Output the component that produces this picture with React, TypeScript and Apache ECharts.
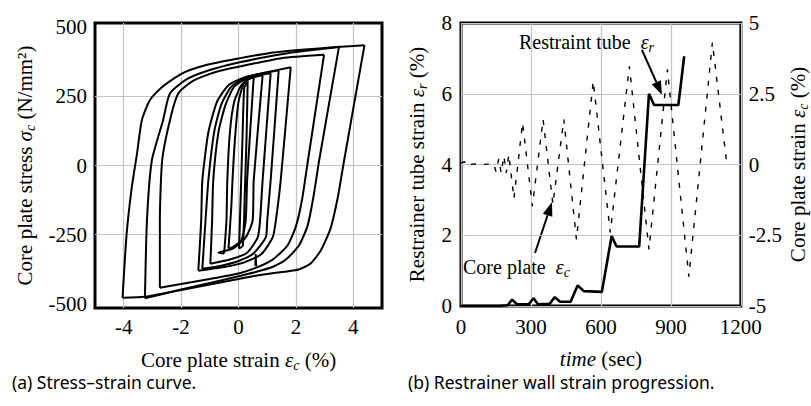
import React, { useEffect, useRef } from 'react';
import * as echarts from 'echarts';

// ---------- (a) stress-strain ----------
const strainTicks = [-4, -2, 0, 2, 4];
const stressTicks = [-500, -250, 0, 250, 500];
const stressGridLines = [-250, 0, 250];

const loopA = [
  [-4.04, -478], [-3.9, -250], [-3.72, -80], [-3.54, 40], [-3.37, 163], [-3.09, 236], [-2.67, 283],
  [-1.96, 333], [-1.16, 362], [0.07, 388], [1.05, 406], [2.2, 418], [3.4, 428], [4.39, 435],
  [3.68, 18], [3.45, -120], [3.2, -230], [2.85, -310], [2.5, -355], [2.1, -376], [1.6, -384],
  [1.0, -392], [0.5, -400], [0, -410], [-1, -430], [-2, -450], [-3.26, -474], [-4.04, -478],
];
const loopB = [
  [-3.26, -480], [-3.19, -199], [-3.02, 18], [-2.63, 163], [-2.39, 260], [-1.8, 312], [-1.0, 345],
  [0, 372], [1, 393], [2, 410], [3.5, 428], [2.81, 18], [2.6, -120], [2.4, -220], [2.1, -290],
  [1.65, -340], [1.2, -366], [0.6, -385], [0, -400], [-1, -425], [-2, -448], [-3.26, -480],
];
const loopC = [
  [-2.74, -442], [-2.74, -200], [-2.66, 18], [-2.39, 163], [-2.1, 260], [-1.6, 305], [-0.8, 338],
  [0.5, 368], [1.5, 388], [2.98, 400], [2.42, 18], [2.22, -120], [2.0, -220], [1.7, -290],
  [1.19, -340], [0.6, -370], [0, -390], [-1, -410], [-2, -428], [-2.74, -442],
];
const loopD = [
  [-1.4, -380], [-1.3, -200], [-1.26, -54], [-1.05, 120], [-0.75, 230], [-0.35, 290], [0.2, 318],
  [0.9, 335], [1.82, 355], [1.47, -54], [1.3, -200], [1.19, -260], [0.8, -320], [0.2, -350],
  [-0.5, -367], [-1.4, -380],
];
const loopE = [
  [-1.26, -373], [-1.15, -200], [-1.05, -54], [-0.85, 120], [-0.6, 220], [-0.25, 285], [0.3, 320],
  [1.4, 344], [1.12, -54], [1.0, -200], [0.95, -260], [0.5, -320], [0, -345], [-0.6, -362], [-1.26, -373],
];
const loopF = [
  [-0.98, -355], [-0.92, -200], [-0.88, -54], [-0.7, 120], [-0.45, 220], [-0.15, 285], [0.35, 318],
  [1.12, 333], [0.84, -54], [0.75, -200], [0.67, -260], [0.3, -315], [-0.3, -340], [-0.98, -355],
];
const loopG = [
  [-0.5, -318], [-0.42, -200], [-0.39, -54], [-0.3, 120], [-0.15, 230], [0.1, 290], [0.4, 315],
  [0.84, 326], [0.53, -54], [0.49, -200], [0.25, -260], [-0.2, -300], [-0.7, -315], [-0.5, -318],
];
const loopH = [
  [-0.35, -300], [-0.25, -150], [-0.21, -54], [-0.12, 100], [0, 230], [0.2, 300], [0.53, 320],
  [0.3, -54], [0.25, -200], [0.1, -270], [-0.2, -295], [-0.35, -300],
];
const loopI = [
  [0.02, -300], [0.08, -100], [0.14, 100], [0.2, 280], [0.32, 305], [0.28, 100], [0.22, -100],
  [0.15, -290], [0.02, -300],
];
const spike = [[0.58, -362], [0.6, -320], [0.62, -365]];
const loops = [loopA, loopB, loopC, loopD, loopE, loopF, loopG, loopH, loopI];

// ---------- (b) strain progression ----------
const timeTicks = [0, 300, 600, 900, 1200];
const tubeStrainTicks = [0, 2, 4, 6, 8];
const coreStrainTicks = [-5, -2.5, 0, 2.5, 5];

const tubeStrain = [
  [0, 0], [160, 0], [200, 0.02], [219, 0.18], [240, 0.05], [290, 0.05], [311, 0.22], [330, 0.05],
  [380, 0.06], [402, 0.25], [425, 0.12], [470, 0.12], [500, 0.58], [527, 0.42], [604, 0.4],
  [646, 1.98], [667, 1.68], [764, 1.68], [806, 6.0], [828, 5.68], [932, 5.68], [957, 7.06],
];
const coreStrain = [
  [0, 0.05], [15, 0.1], [25, -0.05], [40, 0], [60, 0.02], [90, 0], [140, 0.02], [150, -0.25],
  [162, 0.2], [172, -0.3], [184, 0.3], [194, -0.3], [205, 0.35], [227, -1.2], [264, 1.47],
  [306, -1.47], [352, 1.59], [394, -1.4], [441, 1.59], [495, -2.65], [567, 2.94], [640, -2.4],
  [722, 3.47], [806, -3.0], [885, 3.36], [977, -3.96], [1078, 4.31], [1140, 0],
];

const SERIF = '"Liberation Serif", "Times New Roman", serif';
const SANS = '"Noto Sans", "Open Sans", sans-serif';
const FS = 21;
const GRID_LINE = { show: true, lineStyle: { color: '#c4c4c4', width: 1.2 } };
const rich = {
  e: { fontFamily: SERIF, fontStyle: 'italic', fontSize: FS, color: '#000' },
  s: { fontFamily: SERIF, fontStyle: 'italic', fontSize: 14, lineHeight: 14, verticalAlign: 'bottom', color: '#000' },
  i: { fontFamily: SERIF, fontStyle: 'italic', fontSize: FS, color: '#000' },
};
const nameStyle = { fontFamily: SERIF, fontSize: FS, color: '#000', lineHeight: 24, rich };
const labelStyle = { fontFamily: SERIF, fontSize: FS, lineHeight: 16, color: '#000', formatter: (v: number) => String(v) };

// split a closed loop at its tension tip so each branch can be smoothed with sharp tips
function branches(loop: number[][]) {
  let tip = 0;
  loop.forEach((p, i) => { if (p[0] > loop[tip][0]) tip = i; });
  return [loop.slice(0, tip + 1), loop.slice(tip)];
}

function arrow(x1: number, y1: number, x2: number, y2: number) {
  const dx = x2 - x1, dy = y2 - y1;
  const len = Math.hypot(dx, dy);
  const ux = dx / len, uy = dy / len;
  const bx = x2 - 14 * ux, by = y2 - 14 * uy;
  const px = -uy * 5, py = ux * 5;
  return [
    { type: 'line', shape: { x1, y1, x2: bx, y2: by }, style: { stroke: '#000', lineWidth: 2 } },
    { type: 'polygon', shape: { points: [[x2, y2], [bx + px, by + py], [bx - px, by - py]] }, style: { fill: '#000' } },
  ];
}

export default function App() {
  const ref = useRef<HTMLDivElement>(null);
  useEffect(() => {
    const chart = echarts.init(ref.current!, null, { renderer: 'svg' });
    const loopSeries: any[] = [];
    loops.forEach((loop) => {
      branches(loop).forEach((b) => {
        loopSeries.push({
          type: 'line', xAxisIndex: 0, yAxisIndex: 0, data: b, symbol: 'none', showSymbol: false,
          smooth: 0.2, lineStyle: { color: '#000', width: 2 }, silent: true,
        });
      });
    });
    loopSeries.push({
      type: 'line', xAxisIndex: 0, yAxisIndex: 0, data: spike, symbol: 'none', showSymbol: false,
      lineStyle: { color: '#000', width: 1.8 }, silent: true,
    });
    const option: any = {
      animation: false,
      backgroundColor: '#fff',
      grid: [
        { left: 95, top: 23, width: 287, height: 285, show: true, borderColor: '#000', borderWidth: 3, backgroundColor: 'transparent' },
        { left: 461, top: 23, width: 286, height: 283, show: true, borderColor: '#000', borderWidth: 3, backgroundColor: 'transparent' },
      ],
      xAxis: [
        {
          gridIndex: 0, type: 'value', min: -5, max: 5,
          axisLine: { show: false },
          axisTick: { show: false, customValues: strainTicks },
          axisLabel: { customValues: strainTicks, margin: 11, ...labelStyle },
          splitLine: GRID_LINE,
          name: 'Core plate strain {e|ε}{s|c} (%)', nameLocation: 'middle', nameGap: 40, nameTextStyle: nameStyle,
        },
        {
          gridIndex: 1, type: 'value', min: timeTicks[0], max: timeTicks[timeTicks.length - 1], interval: 300,
          axisLine: { show: false }, axisTick: { show: false },
          axisLabel: { margin: 13, ...labelStyle },
          splitLine: GRID_LINE,
          name: '{i|time} (sec)', nameLocation: 'middle', nameGap: 41, nameTextStyle: nameStyle,
        },
      ],
      yAxis: [
        {
          gridIndex: 0, type: 'value', min: -515, max: 515,
          axisLine: { show: false },
          axisTick: { show: false, customValues: stressGridLines },
          axisLabel: { customValues: stressTicks, margin: 8, ...labelStyle },
          splitLine: GRID_LINE,
          name: 'Core plate stress {e|σ}{s|c} (N/mm²)', nameLocation: 'middle', nameGap: 58, nameTextStyle: nameStyle,
        },
        {
          gridIndex: 1, type: 'value', min: tubeStrainTicks[0], max: tubeStrainTicks[4], interval: 2,
          axisLine: { show: false }, axisTick: { show: false },
          axisLabel: { margin: 9, ...labelStyle },
          splitLine: GRID_LINE,
          name: 'Restrainer tube strain {e|ε}{s|r} (%)', nameLocation: 'middle', nameGap: 32, nameTextStyle: nameStyle,
        },
        {
          gridIndex: 1, type: 'value', position: 'right', min: coreStrainTicks[0], max: coreStrainTicks[4], interval: 2.5,
          axisLine: { show: false }, axisTick: { show: false },
          axisLabel: { margin: 8, ...labelStyle },
          splitLine: { show: false },
          name: 'Core plate strain {e|ε}{s|c} (%)', nameLocation: 'middle', nameGap: 42, nameTextStyle: nameStyle,
        },
      ],
      series: [
        ...loopSeries,
        {
          type: 'line', xAxisIndex: 1, yAxisIndex: 1, data: tubeStrain, symbol: 'none', showSymbol: false,
          lineStyle: { color: '#000', width: 2.6 }, z: 3,
        },
        {
          type: 'line', xAxisIndex: 1, yAxisIndex: 2, data: coreStrain, symbol: 'none', showSymbol: false,
          lineStyle: { color: '#000', width: 1.4, type: [5, 8] }, z: 2,
        },
      ],
      graphic: [
        {
          type: 'text', left: 12, top: 373,
          style: { text: '(a) Stress–strain curve.', font: `17.5px ${SANS}`, fill: '#000' },
        },
        {
          type: 'text', left: 408, top: 373,
          style: { text: '(b) Restrainer wall strain progression.', font: `17.5px ${SANS}`, fill: '#000' },
        },
        {
          type: 'text', x: 519, y: 30,
          style: {
            text: 'Restraint tube  {e|ε}{s|r}', fontFamily: SERIF, fontSize: 20, fill: '#000', lineHeight: 24,
            rich: { e: { ...rich.e, fontSize: 20 }, s: rich.s },
          },
        },
        {
          type: 'text', x: 463, y: 255,
          style: {
            text: 'Core plate  {e|ε}{s|c}', fontFamily: SERIF, fontSize: 20, fill: '#000', lineHeight: 24,
            rich: { e: { ...rich.e, fontSize: 20 }, s: rich.s },
          },
        },
        ...arrow(642, 50, 662, 95),
        ...arrow(535, 253, 552, 202),
      ],
    };
    chart.setOption(option);
    return () => chart.dispose();
  }, []);
  return (
    <div
      ref={ref}
      style={{ position: 'fixed', left: 0, top: 0, width: 811, height: 406, background: '#fff' }}
    />
  );
}
